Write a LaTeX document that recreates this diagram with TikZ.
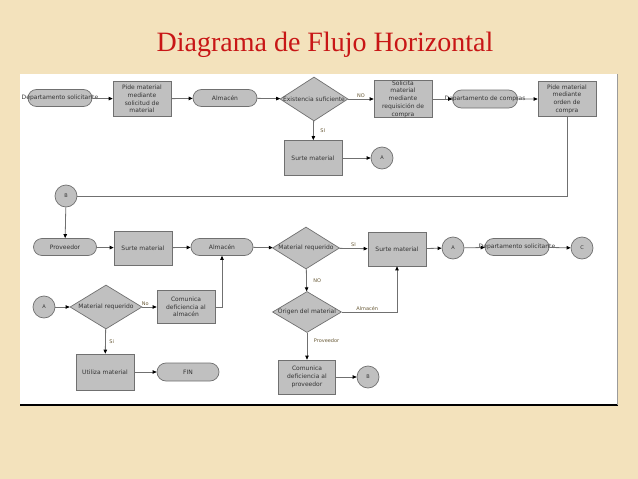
\documentclass[tikz,border=0pt]{standalone}
\usepackage{fontspec}
\newfontfamily\diafont{DejaVu Sans}
\newfontfamily\titlefont{Liberation Serif}
\usetikzlibrary{arrows.meta, shapes.geometric, shapes.misc}
\definecolor{bgbeige}{RGB}{243,226,188}
\definecolor{boxgray}{RGB}{192,192,192}
\definecolor{edgegray}{RGB}{112,112,112}
\definecolor{lblolive}{RGB}{105,90,55}
\definecolor{titlered}{RGB}{200,22,22}
% text wider than its shape
\newcommand{\spill}[1]{\makebox[0pt]{#1}}

\begin{document}
\begin{tikzpicture}[x=1pt, y=-1pt,
  >={Triangle[length=4pt, width=3.5pt, color=black]},
  proc/.style={rectangle, draw=edgegray, fill=boxgray, line width=0.7pt, minimum width=58pt, minimum height=35pt, inner sep=0pt, align=center, text=black!80, font=\diafont\fontsize{6}{7.7}\selectfont},
  term/.style={rounded rectangle, draw=edgegray, fill=boxgray, line width=0.7pt, minimum width=64pt, minimum height=17pt, inner sep=0pt, text=black!80, font=\diafont\fontsize{6}{7}\selectfont},
  dec/.style={diamond, draw=edgegray, fill=boxgray, line width=0.7pt, minimum width=68pt, minimum height=44pt, inner sep=0pt, text=black!80, font=\diafont\fontsize{6}{7}\selectfont},
  refc/.style={circle, draw=edgegray, fill=boxgray, line width=0.7pt, minimum size=22pt, inner sep=0pt, text=black!80, font=\diafont\fontsize{5}{6}\selectfont},
  flow/.style={draw=edgegray, line width=0.8pt},
  lbl/.style={font=\diafont\fontsize{5}{6}\selectfont, text=lblolive, inner sep=1.5pt}
]
\useasboundingbox (0,0) rectangle (638,479);
\fill[bgbeige] (0,0) rectangle (638,479);
\fill[white] (20,74) rectangle (618,404);
\draw[black, line width=2pt] (20,405) -- (618,405);
\draw[edgegray!70, line width=0.8pt] (617.5,74) -- (617.5,405);

\node[font=\titlefont\fontsize{28}{30}\selectfont, text=titlered, anchor=base] (title) at (325,52) {Diagrama de Flujo Horizontal};

% first row
\node[term] (dsol1) at (60,98) {\spill{Departamento solicitante}};
\node[proc] (pide1) at (142,99) {Pide material\\mediante\\solicitud de\\material};
\node[term] (alm1) at (225,98) {Almacén};
\node[dec] (exist) at (314,99) {\spill{Existencia suficiente}};
\node[proc] (solic) at (403,99) {Solicita\\material\\mediante\\requisición de\\compra};
\node[term, minimum width=65pt, minimum height=18pt] (dcomp) at (485,99) {\spill{Departamento de compras}};
\node[proc] (pide2) at (567,99) {Pide material\\mediante\\orden de\\compra};
\node[proc] (surte1) at (313,158) {Surte material};
\node[refc] (A1) at (382,158) {A};

\draw[flow, ->] (dsol1) -- (pide1);
\draw[flow, ->] (pide1) -- (alm1);
\draw[flow, ->] (alm1) -- (exist);
\draw[flow, ->] (exist) -- node[lbl, above]{NO} (solic);
\draw[flow, ->] (solic) -- (dcomp);
\draw[flow, ->] (dcomp) -- (pide2);
\draw[flow, ->] (exist) -- node[lbl, right, xshift=5pt]{SI} (surte1);
\draw[flow, ->] (surte1) -- (A1);

% second row
\node[refc] (B1) at (66,196) {B};
\node[term, minimum width=63pt] (prov) at (65,247) {Proveedor};
\node[proc, minimum height=34pt] (surte2) at (143,248) {Surte material};
\node[term, minimum width=62pt] (alm2) at (222,247) {Almacén};
\node[dec, minimum width=67pt, minimum height=42pt] (mreq1) at (306,248) {\spill{Material requerido}};
\node[proc, minimum height=34pt] (surte3) at (397,249) {Surte material};
\node[refc] (A2) at (453,248) {A};
\node[term] (dsol2) at (517,247) {\spill{Departamento solicitante}};
\node[refc] (C) at (582,248) {C};

\draw[flow] (pide2.south) |- (B1);
\draw[flow, ->] (B1) -- (prov);
\draw[flow, ->] (prov) -- (surte2);
\draw[flow, ->] (surte2) -- (alm2);
\draw[flow, ->] (alm2) -- (mreq1);
\draw[flow, ->] (mreq1) -- node[lbl, above]{SI} (surte3);
\draw[flow, ->] (surte3) -- (A2);
\draw[flow, ->] (A2) -- (dsol2);
\draw[flow, ->] (dsol2) -- (C);

% third row
\node[dec, minimum width=69pt, minimum height=41pt] (orig) at (307,312) {\spill{Origen del material}};
\node[proc, minimum width=57pt, minimum height=34pt] (com2) at (307,377) {Comunica\\deficiencia al\\proveedor};
\node[refc] (B2) at (368,377) {B};

\draw[flow, ->] (mreq1) -- node[lbl, right, xshift=5pt]{NO} (orig);
\draw[flow, ->] (orig.east) -| node[lbl, above, pos=0.23]{Almacén} (surte3.south);
\draw[flow, ->] (orig) -- node[lbl, right, xshift=5pt, pos=0.3]{Proveedor} (com2);
\draw[flow, ->] (com2) -- (B2);

% lower left
\node[refc] (A3) at (44,307) {A};
\node[dec, minimum width=72pt] (mreq2) at (106,307) {\spill{Material requerido}};
\node[proc, minimum height=33pt] (com1) at (186,307) {Comunica\\deficiencia al\\almacén};
\node[proc, minimum height=36pt] (util) at (105,372) {Utiliza material};
\node[term, minimum width=62pt, minimum height=18pt] (fin) at (188,372) {FIN};

\draw[flow, ->] (A3) -- (mreq2);
\draw[flow, ->] (mreq2) -- node[lbl, above, pos=0.2]{No} (com1);
\draw[flow, ->] (com1.east) -| (alm2.south);
\draw[flow, ->] (mreq2) -- node[lbl, right, xshift=2pt]{Si} (util);
\draw[flow, ->] (util) -- (fin);
\end{tikzpicture}
\end{document}
